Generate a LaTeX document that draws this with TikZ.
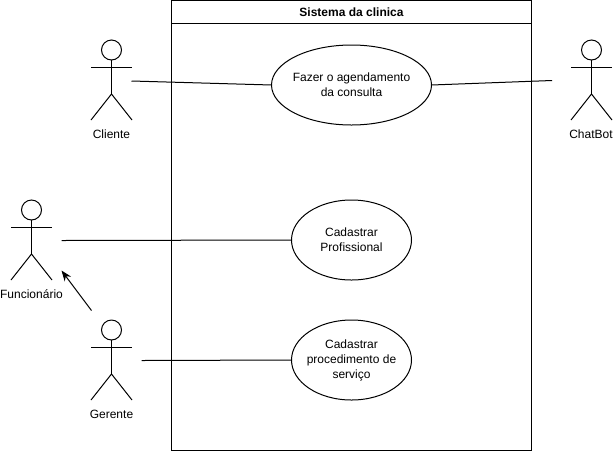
\documentclass[tikz,border=0pt]{standalone}
\usepackage{fontspec}
\setmainfont{Liberation Sans}
\usepackage{tikz}
\usetikzlibrary{arrows.meta, shapes.geometric}
\tikzset{
  actor/.pic={
    \draw (0,-30) circle[radius=10];
    \draw (0,-20) -- (0,14);
    \draw (-20.5,-13) -- (20.5,-13);
    \draw (-20.5,40) -- (0,14) -- (20.5,40);
  },
  usecase/.style={draw, ellipse, inner xsep=-20pt, inner ysep=-10pt, outer sep=0pt, align=center, minimum height=60pt},
  label/.style={inner sep=0pt}
}
\begin{document}
\begin{tikzpicture}[x=0.75pt, y=-0.75pt, >={Stealth[length=8pt,width=6pt]}, line width=0.75pt, font=\fontsize{9}{11.25}\selectfont]
  \useasboundingbox (0,0) rectangle (613,451);
  \node[draw, inner sep=0pt, outer sep=0pt, minimum width=270pt, minimum height=337.5pt] (sistema) at (351.5,225.5) {};
  \draw (sistema.north west) ++(0,23) coordinate (headerL) -- (headerL -| sistema.east);
  \node[label, font=\fontsize{9}{11.25}\selectfont\bfseries] (titulo) at (351.5,12) {Sistema da clinica};

  \node[usecase, minimum width=120pt] (fazer) at (351.5,85) {Fazer o agendamento\\da consulta};
  \node[usecase, minimum width=90pt] (profissional) at (351.5,240) {Cadastrar\\Profissional};
  \node[usecase, minimum width=90pt] (procedimento) at (351.5,360) {Cadastrar\\procedimento de\\serviço};

  \pic at (111.5,80) {actor};
  \pic at (591.5,80) {actor};
  \pic at (31.5,240) {actor};
  \pic at (111.5,360) {actor};

  \node[label] (cliente) at (111.5,134) {Cliente};
  \node[label] (chatbot) at (591,134) {ChatBot};
  \node[label] (funcionario) at (31.5,294) {Funcionário};
  \node[label] (gerente) at (111.5,414) {Gerente};

  \coordinate (clienteR) at (131.5,81);
  \coordinate (chatbotL) at (552,80.5);
  \coordinate (funcionarioR) at (61.5,240.5);
  \coordinate (funcionarioB) at (61.5,270.5);
  \coordinate (gerenteR) at (141.5,360.5);
  \coordinate (gerenteT) at (91.5,310.5);

  \draw (clienteR) -- (fazer.west);
  \draw (fazer.east) -- (chatbotL);
  \draw (funcionarioR) -- (profissional.west);
  \draw (gerenteR) -- (procedimento.west);
  \draw[->] (gerenteT) -- (funcionarioB);
\end{tikzpicture}
\end{document}
